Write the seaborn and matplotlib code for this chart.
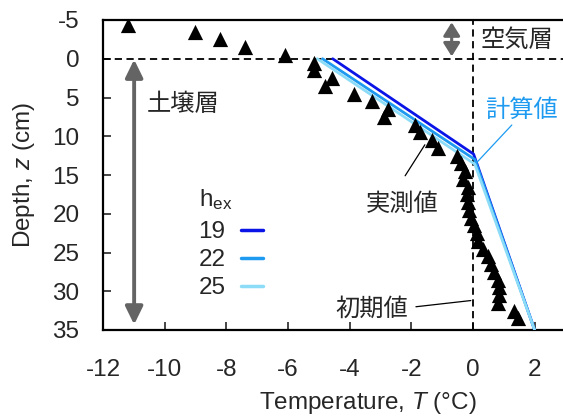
import numpy as np
import pandas as pd
import matplotlib
matplotlib.use("Agg")
import matplotlib.pyplot as plt
import seaborn as sns

# ---------------- data ----------------
meas_T = [-11.2, -9.0, -8.2, -7.4, -6.1, -5.15, -5.14, -4.58, -4.81, -3.85,
          -3.29, -2.74, -2.89, -1.88, -1.72, -1.32, -1.12, -0.52, -0.38, -0.25,
          -0.33, -0.15, -0.18, -0.15, -0.12, -0.05, 0.02, 0.12, 0.15, 0.32,
          0.48, 0.60, 0.68, 0.80, 0.85, 0.85, 0.82, 1.33, 1.45]
meas_z = [-4.4, -3.5, -2.5, -1.5, -0.5, 0.5, 1.5, 2.5, 3.5, 4.5,
          5.5, 6.5, 7.5, 8.5, 9.5, 10.5, 11.5, 12.5, 13.5, 14.5,
          15.5, 16.5, 17.5, 18.5, 19.5, 20.5, 21.5, 22.5, 23.5, 24.5,
          25.5, 26.5, 27.5, 28.5, 29.5, 30.5, 31.5, 32.5, 33.5]

hex_labels = ["19", "22", "25"]
calc_T = {"19": [-4.55, 0.02, 2.0],
          "22": [-4.88, 0.06, 2.0],
          "25": [-5.05, 0.06, 2.0]}
calc_z = {"19": [0.0, 12.3, 35.0],
          "22": [0.0, 13.0, 35.0],
          "25": [0.0, 13.6, 35.0]}
colors = {"19": "#0a14e6", "22": "#1e9bf0", "25": "#8cdcf8"}

x_ticks = [-12, -10, -8, -6, -4, -2, 0, 2]
y_ticks = [-5, 0, 5, 10, 15, 20, 25, 30, 35]

# ---------------- style ----------------
sns.set_style("ticks")
plt.rcParams["font.family"] = ["Liberation Sans", "Noto Sans CJK JP"]
plt.rcParams["mathtext.fontset"] = "custom"
plt.rcParams["mathtext.rm"] = "Liberation Sans"
plt.rcParams["mathtext.it"] = "Liberation Sans:italic"
plt.rcParams["axes.unicode_minus"] = False
FS = 17.5
CJK = ["Noto Sans CJK JP", "Liberation Sans"]

fig = plt.figure(figsize=(5.63, 4.18), dpi=100)
ax = fig.add_axes([103 / 563, 88 / 418, 460 / 563, 310 / 418])

calc_df = pd.DataFrame({
    "T": sum([calc_T[h] for h in hex_labels], []),
    "z": sum([calc_z[h] for h in hex_labels], []),
    "hex": sum([[h] * len(calc_T[h]) for h in hex_labels], []),
})
meas_df = pd.DataFrame({"T": meas_T, "z": meas_z})

ax.axhline(0, color="black", lw=1.3, ls=(0, (4, 2.5)), zorder=1)
ax.axvline(0, color="black", lw=1.3, ls=(0, (4, 2.5)), zorder=1)

sns.lineplot(data=calc_df, x="T", y="z", hue="hex", palette=colors,
             hue_order=hex_labels, sort=False, estimator=None, lw=2.0,
             ax=ax, zorder=3)
sns.scatterplot(data=meas_df, x="T", y="z", marker="^", s=120, color="black",
                linewidth=0, ax=ax, zorder=4)

ax.set_xlim(-12, -12 + 460 / 30.83)
ax.set_ylim(35, -5)
ax.set_xticks(x_ticks)
ax.set_yticks(y_ticks)
ax.tick_params(axis="x", direction="in", length=6, width=1.2, pad=21, labelsize=FS)
ax.tick_params(axis="y", direction="in", length=6, width=1.2, pad=17, labelsize=FS)
for s in ["top", "left", "bottom"]:
    ax.spines[s].set_linewidth(1.6)
    ax.spines[s].set_color("black")
ax.spines["right"].set_visible(False)

ax.set_xlabel("Temperature, $\\it{T}$ (°C)", fontsize=FS)
ax.set_ylabel("Depth, $\\it{z}$ (cm)", fontsize=FS)
ax.xaxis.label.set_va("center")
ax.yaxis.label.set_va("center")
ax.xaxis.set_label_coords((368 - 103) / 460, -(403 - 330) / 310)
ax.yaxis.set_label_coords((24 - 103) / 460, 0.5)

# legend
handles, labels = ax.get_legend_handles_labels()
leg = ax.legend(handles, labels, title="h$_{\\mathrm{ex}}$", markerfirst=False,
                frameon=False, fontsize=FS, title_fontsize=FS,
                handlelength=0.9, handletextpad=0.65, labelspacing=0.25,
                borderpad=0, borderaxespad=0, alignment="left",
                loc="upper left", bbox_to_anchor=(-8.9, 16.5),
                bbox_transform=ax.transData)
leg._legend_box.sep = 7
for ln in leg.get_lines():
    ln.set_linewidth(2.5)

# arrows
gray = "#646464"
ax.annotate("", xy=(-10.99, 34.3), xytext=(-10.99, 0.1),
            arrowprops=dict(arrowstyle="<|-|>,head_length=0.45,head_width=0.22",
                            color=gray, lw=2.8, mutation_scale=24,
                            shrinkA=0, shrinkB=0), zorder=2)
ax.annotate("", xy=(-0.69, -0.3), xytext=(-0.69, -4.7),
            arrowprops=dict(arrowstyle="<|-|>,head_length=0.4,head_width=0.25",
                            color=gray, lw=2.2, mutation_scale=20,
                            shrinkA=0, shrinkB=0), zorder=2)

# texts
ax.text(1.43, -2.5, "空気層", fontsize=FS, family=CJK, ha="center", va="center")
ax.text(-9.41, 5.9, "土壌層", fontsize=FS, family=CJK, ha="center", va="center")
ax.text(1.58, 6.6, "計算値", fontsize=FS, family=CJK, ha="center", va="center",
        color="#1e9bf0")
ax.text(-2.31, 18.7, "実測値", fontsize=FS, family=CJK, ha="center", va="center")
ax.text(-3.27, 32.3, "初期値", fontsize=FS, family=CJK, ha="center", va="center")

# leader lines
ax.annotate("", xy=(0.12, 13.4), xytext=(1.26, 8.55),
            arrowprops=dict(arrowstyle="-", color="#1e9bf0", lw=0.9,
                            shrinkA=0, shrinkB=0))
ax.annotate("", xy=(-1.56, 11.1), xytext=(-2.2, 15.1),
            arrowprops=dict(arrowstyle="-", color="black", lw=0.9,
                            shrinkA=0, shrinkB=0))
ax.annotate("", xy=(-0.07, 31.2), xytext=(-1.85, 32.0),
            arrowprops=dict(arrowstyle="-", color="black", lw=0.9,
                            shrinkA=0, shrinkB=0))

fig.savefig("out.png", dpi=100)
